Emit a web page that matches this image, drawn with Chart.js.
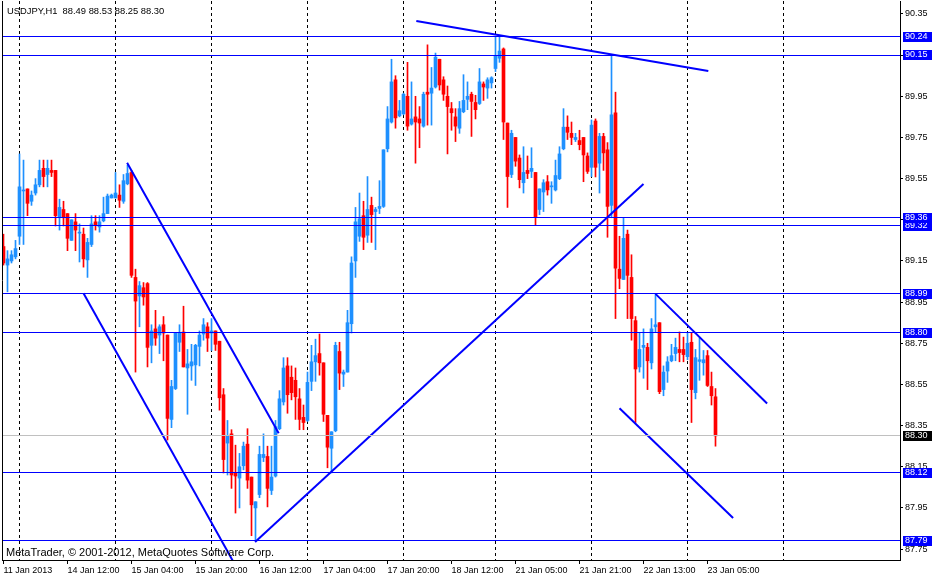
<!DOCTYPE html>
<html>
<head>
<meta charset="utf-8">
<script src="https://cdn.jsdelivr.net/npm/chart.js@4.4.1/dist/chart.umd.min.js"></script>
<style>
  html, body { margin: 0; padding: 0; background: #fff; }
  #wrap { width: 938px; height: 577px; }
</style>
</head>
<body>
<div id="wrap"><canvas id="chart" width="938" height="577"></canvas></div>
<script>
// USDJPY H1, bars from 11 Jan 2013 to 23 Jan 2013 07:00
const opens = [
  89.22, 89.13, 89.15, 89.17, 89.27, 89.49, 89.50, 89.44, 89.48, 89.52,
  89.60, 89.57, 89.59, 89.59, 89.36, 89.40, 89.38, 89.25, 89.34, 89.285,
  89.28, 89.155, 89.23, 89.34, 89.315, 89.345, 89.38, 89.456, 89.456, 89.47,
  89.44, 89.525, 89.58, 89.07, 88.98, 89.02, 89.04, 88.74, 88.82, 88.79,
  88.84, 88.79, 88.38, 88.53, 88.755, 88.805, 88.63, 88.64, 88.645, 88.735,
  88.795, 88.83, 88.80, 88.81, 88.76, 88.50, 88.265, 88.31, 88.12, 88.095,
  88.155, 88.26, 88.10, 87.95, 88.015, 88.195, 88.20, 88.035, 88.105, 88.335,
  88.465, 88.64, 88.585, 88.57, 88.48, 88.39, 88.375, 88.565, 88.66, 88.70,
  88.655, 88.40, 88.24, 88.325, 88.71, 88.60, 88.61, 88.845, 89.15, 89.27,
  89.37, 89.275, 89.42, 89.39, 89.405, 89.415, 89.695, 89.825, 90.03, 89.855,
  89.865, 89.95, 89.815, 89.85, 89.84, 89.805, 89.97, 89.965, 89.995, 90.13,
  90.03, 89.95, 89.89, 89.85, 89.795, 89.875, 89.935, 89.96, 89.92, 89.915,
  90.01, 89.99, 90.015, 90.085, 90.135, 90.18, 89.82, 89.57, 89.75, 89.65,
  89.53, 89.59, 89.585, 89.58, 89.40, 89.485, 89.535, 89.51, 89.495, 89.55,
  89.695, 89.80, 89.77, 89.74, 89.735, 89.75, 89.66, 89.605, 89.83, 89.625,
  89.755, 89.69, 89.42, 89.87, 89.11, 89.06, 89.28, 89.07, 88.86, 88.635,
  88.73, 88.73, 88.655, 88.83, 88.85, 88.525, 88.615, 88.665, 88.70, 88.72,
  88.72, 88.685, 88.755, 88.51, 88.662, 88.655, 88.69, 88.54, 88.49
];
const highs = [
  89.28, 89.20, 89.20, 89.25, 89.67, 89.64, 89.50, 89.49, 89.55, 89.64,
  89.64, 89.64, 89.64, 89.59, 89.45, 89.44, 89.38, 89.35, 89.38, 89.33,
  89.31, 89.26, 89.37, 89.37, 89.37, 89.46, 89.475, 89.475, 89.58, 89.52,
  89.57, 89.615, 89.59, 89.11, 89.05, 89.045, 89.045, 88.84, 88.91, 88.84,
  88.88, 88.79, 88.57, 88.80, 88.84, 88.93, 88.72, 88.745, 88.745, 88.81,
  88.87, 88.85, 88.87, 88.81, 88.76, 88.53, 88.375, 88.33, 88.255, 88.215,
  88.27, 88.335, 88.10, 87.98, 88.25, 88.31, 88.25, 88.25, 88.375, 88.52,
  88.68, 88.68, 88.64, 88.63, 88.53, 88.45, 88.61, 88.74, 88.77, 88.795,
  88.655, 88.40, 88.32, 88.755, 88.755, 88.62, 88.91, 89.17, 89.41, 89.48,
  89.44, 89.56, 89.46, 89.41, 89.54, 89.69, 89.90, 90.13, 90.05, 89.93,
  89.965, 90.115, 90.02, 89.95, 89.90, 89.97, 90.20, 90.09, 90.16, 90.13,
  90.045, 90.00, 89.92, 89.89, 89.925, 90.055, 90.02, 89.97, 89.955, 90.085,
  90.02, 90.04, 90.045, 90.24, 90.24, 90.185, 89.82, 89.785, 89.75, 89.665,
  89.705, 89.66, 89.70, 89.58, 89.50, 89.545, 89.565, 89.535, 89.64, 89.705,
  89.89, 89.855, 89.825, 89.77, 89.785, 89.75, 89.675, 89.835, 89.84, 89.77,
  89.77, 89.725, 90.15, 89.97, 89.27, 89.36, 89.30, 89.18, 88.88, 88.80,
  88.82, 88.75, 88.87, 88.99, 88.85, 88.64, 88.685, 88.745, 88.775, 88.805,
  88.78, 88.80, 88.80, 88.72, 88.775, 88.715, 88.715, 88.61, 88.53
];
const lows = [
  89.13, 89.00, 89.14, 89.16, 89.23, 89.23, 89.37, 89.42, 89.47, 89.51,
  89.51, 89.51, 89.56, 89.32, 89.30, 89.32, 89.20, 89.25, 89.20, 89.145,
  89.12, 89.07, 89.22, 89.30, 89.29, 89.34, 89.38, 89.456, 89.456, 89.41,
  89.43, 89.52, 89.07, 88.61, 88.83, 88.935, 88.635, 88.655, 88.74, 88.70,
  88.665, 88.28, 88.34, 88.525, 88.71, 88.635, 88.405, 88.57, 88.545, 88.64,
  88.765, 88.71, 88.715, 88.715, 88.425, 88.12, 88.11, 88.045, 87.925, 87.95,
  88.135, 88.045, 87.815, 87.79, 88.00, 88.175, 87.955, 88.015, 88.10, 88.33,
  88.45, 88.41, 88.475, 88.38, 88.33, 88.33, 88.37, 88.52, 88.565, 88.595,
  88.37, 88.145, 88.12, 88.32, 88.525, 88.54, 88.61, 88.80, 89.07, 89.245,
  89.205, 89.24, 89.24, 89.205, 89.38, 89.41, 89.68, 89.82, 89.795, 89.85,
  89.86, 89.785, 89.81, 89.625, 89.70, 89.80, 89.81, 89.81, 89.99, 89.98,
  89.93, 89.67, 89.785, 89.73, 89.77, 89.87, 89.885, 89.755, 89.84, 89.91,
  89.93, 89.94, 89.99, 90.07, 90.115, 89.74, 89.41, 89.555, 89.61, 89.505,
  89.48, 89.55, 89.555, 89.325, 89.375, 89.39, 89.47, 89.43, 89.49, 89.545,
  89.69, 89.74, 89.715, 89.73, 89.69, 89.535, 89.575, 89.56, 89.558, 89.48,
  89.59, 89.265, 89.36, 88.87, 89.015, 89.06, 88.87, 88.765, 88.365, 88.61,
  88.58, 88.525, 88.625, 88.805, 88.505, 88.495, 88.56, 88.66, 88.665, 88.66,
  88.66, 88.67, 88.365, 88.48, 88.57, 88.595, 88.54, 88.45, 88.25
];
const closes = [
  89.14, 89.16, 89.18, 89.21, 89.51, 89.495, 89.43, 89.47, 89.52, 89.59,
  89.56, 89.60, 89.58, 89.37, 89.41, 89.36, 89.26, 89.35, 89.30, 89.29,
  89.16, 89.24, 89.33, 89.325, 89.34, 89.38, 89.465, 89.47, 89.48, 89.445,
  89.54, 89.575, 89.08, 88.955, 89.03, 88.975, 88.73, 88.81, 88.775, 88.83,
  88.80, 88.385, 88.54, 88.80, 88.80, 88.635, 88.65, 88.66, 88.74, 88.79,
  88.84, 88.775, 88.81, 88.745, 88.485, 88.185, 88.30, 88.11, 88.105, 88.15,
  88.25, 88.085, 87.965, 87.98, 88.21, 88.21, 88.045, 88.10, 88.345, 88.48,
  88.63, 88.50, 88.51, 88.49, 88.38, 88.365, 88.56, 88.66, 88.69, 88.655,
  88.405, 88.245, 88.32, 88.74, 88.605, 88.61, 88.85, 89.14, 89.34, 89.355,
  89.265, 89.40, 89.375, 89.40, 89.415, 89.69, 89.84, 90.02, 89.845, 89.88,
  89.96, 89.805, 89.84, 89.825, 89.82, 89.96, 89.96, 89.99, 90.14, 90.005,
  89.96, 89.90, 89.87, 89.805, 89.89, 89.93, 89.95, 89.925, 89.885, 90.02,
  89.995, 90.03, 90.04, 90.145, 90.17, 89.825, 89.56, 89.77, 89.635, 89.545,
  89.58, 89.575, 89.60, 89.365, 89.50, 89.53, 89.495, 89.515, 89.565, 89.67,
  89.80, 89.775, 89.75, 89.75, 89.715, 89.665, 89.585, 89.81, 89.605, 89.755,
  89.675, 89.415, 89.86, 89.115, 89.065, 89.26, 89.08, 88.87, 88.625, 88.72,
  88.74, 88.665, 88.82, 88.84, 88.515, 88.61, 88.66, 88.69, 88.73, 88.705,
  88.695, 88.75, 88.525, 88.68, 88.67, 88.67, 88.545, 88.495, 88.30
];

// time axis: bar index -> label
const tickIdx = [0, 16, 32, 48, 64, 80, 96, 112, 128, 144, 160, 176];
const tickText = ['11 Jan 2013', '14 Jan 12:00', '15 Jan 04:00', '15 Jan 20:00',
  '16 Jan 12:00', '17 Jan 04:00', '17 Jan 20:00', '18 Jan 12:00',
  '21 Jan 05:00', '21 Jan 21:00', '22 Jan 13:00', '23 Jan 05:00'];
// day separators (midnight bars)
const gridIdx = [4, 28, 52, 76, 100, 123, 147, 171, 195];
const priceTicks = [87.75, 87.95, 88.15, 88.35, 88.55, 88.75, 88.95,
  89.15, 89.35, 89.55, 89.75, 89.95, 90.15, 90.35];

// horizontal levels and bid
const levels = [90.24, 90.15, 89.36, 89.32, 88.99, 88.80, 88.12, 87.79];
const bidPrice = 88.30;
// trend lines: [bar1, price1, bar2, price2]
const trendLines = [
  [103.2, 90.316, 176.2, 90.073],
  [30.9, 89.627, 68.8, 88.313],
  [20.0, 88.993, 57.5, 87.687],
  [62.9, 87.784, 160.0, 89.524],
  [154.0, 88.434, 182.4, 87.901],
  [163.0, 88.990, 190.9, 88.457]
];

const xMin = -0.375, xMax = 224.125;
const yMin = 87.697, yMax = 90.413;
const FONT = { family: 'Liberation Sans', size: 9 };

const idx = opens.map((_, i) => i);
const colors = idx.map(i => closes[i] >= opens[i] ? '#1E90FF' : '#FF0000');

let datasets = [];
trendLines.forEach(t => {
  datasets.push({
    type: 'line', data: [{x: t[0], y: t[1]}, {x: t[2], y: t[3]}],
    borderColor: '#0000FF', borderWidth: 2, pointRadius: 0, order: 0
  });
});
datasets.push({
  type: 'bar', data: idx.map(i => ({x: i, y: [opens[i], closes[i]]})),
  backgroundColor: colors, barThickness: 3, grouped: false, minBarLength: 1, order: 3
});
datasets.push({
  type: 'bar', data: idx.map(i => ({x: i, y: [lows[i], highs[i]]})),
  backgroundColor: colors, barThickness: 1, grouped: false, order: 4
});

const noPadX = s => { s.paddingLeft = 0; s.paddingRight = 0; };
const noPadY = s => { s.paddingTop = 0; s.paddingBottom = 0; };

const overlay = {
  id: 'overlay',
  afterDraw(chart) {
    const {ctx, chartArea: a} = chart;
    const y = chart.scales.y;
    ctx.save();
    ctx.strokeStyle = '#000';
    ctx.lineWidth = 1;
    ctx.beginPath();
    ctx.moveTo(a.left + 0.5, a.top);
    ctx.lineTo(a.left + 0.5, a.bottom);
    ctx.stroke();

    ctx.fillStyle = '#000';
    ctx.textBaseline = 'alphabetic';
    const n = closes.length - 1;
    ctx.font = '9.4px "Liberation Sans"';
    ctx.fillText('USDJPY,H1  ' + opens[n].toFixed(2) + ' ' + highs[n].toFixed(2) + ' ' +
      lows[n].toFixed(2) + ' ' + closes[n].toFixed(2), 7, 14);
    ctx.font = '11px "Liberation Sans"';
    ctx.fillText('MetaTrader, \u00A9 2001-2012, MetaQuotes Software Corp.', 6, 556);

    ctx.font = '9px "Liberation Sans"';
    const box = (v, bg) => {
      const py = Math.round(y.getPixelForValue(v));
      ctx.fillStyle = bg;
      ctx.fillRect(903, py - 5, 29, 10);
      ctx.fillStyle = '#fff';
      ctx.textBaseline = 'middle';
      ctx.fillText(v.toFixed(2), 905, py);
    };
    [...levels].sort((p, q) => p - q).forEach(v => box(v, '#0000FF'));
    box(bidPrice, '#000000');
    ctx.restore();
  }
};

new Chart(document.getElementById('chart'), {
  type: 'bar',
  data: { datasets: datasets },
  options: {
    responsive: false,
    animation: false,
    events: [],
    layout: { padding: { left: 2, top: 1, right: 0, bottom: 0 } },
    plugins: { legend: { display: false }, tooltip: { enabled: false } },
    scales: {
      x: {
        type: 'linear', position: 'bottom', min: xMin, max: xMax, offset: false,
        afterBuildTicks: s => { s.ticks = tickIdx.map(v => ({value: v})); },
        afterFit: s => { s.height = 17; noPadX(s); },
        grid: { offset: false, drawOnChartArea: false, tickLength: 4, tickColor: '#000' },
        border: { color: '#000', width: 1 },
        ticks: {
          align: 'start', autoSkip: false, maxRotation: 0, padding: 1,
          color: '#000', font: FONT,
          callback: v => tickText[tickIdx.indexOf(v)]
        }
      },
      xg: {
        type: 'linear', position: 'bottom', min: xMin, max: xMax, offset: false,
        afterBuildTicks: s => { s.ticks = gridIdx.map(v => ({value: v})); },
        afterFit: s => { s.height = 0; noPadX(s); },
        grid: { offset: false, drawTicks: false, color: '#000', lineWidth: 1 },
        border: { display: false, dash: [3, 3] },
        ticks: { display: false }
      },
      y: {
        type: 'linear', position: 'right', min: yMin, max: yMax,
        afterBuildTicks: s => { s.ticks = priceTicks.map(v => ({value: v})); },
        afterFit: s => { s.width = 38; noPadY(s); },
        grid: { drawOnChartArea: false, tickLength: 3, tickColor: '#000' },
        border: { color: '#000', width: 1 },
        ticks: { color: '#000', font: FONT, padding: 2, callback: v => v.toFixed(2) }
      },
      yl: {
        type: 'linear', position: 'right', min: yMin, max: yMax,
        afterBuildTicks: s => { s.ticks = [bidPrice, ...levels].map(v => ({value: v})); },
        afterFit: s => { s.width = 0; noPadY(s); },
        grid: {
          drawTicks: false, lineWidth: 1, z: 1,
          color: c => c.tick && c.tick.value === bidPrice ? '#C0C0C0' : '#0000FF'
        },
        border: { display: false },
        ticks: { display: false }
      }
    }
  },
  plugins: [overlay]
});
</script>
</body>
</html>
